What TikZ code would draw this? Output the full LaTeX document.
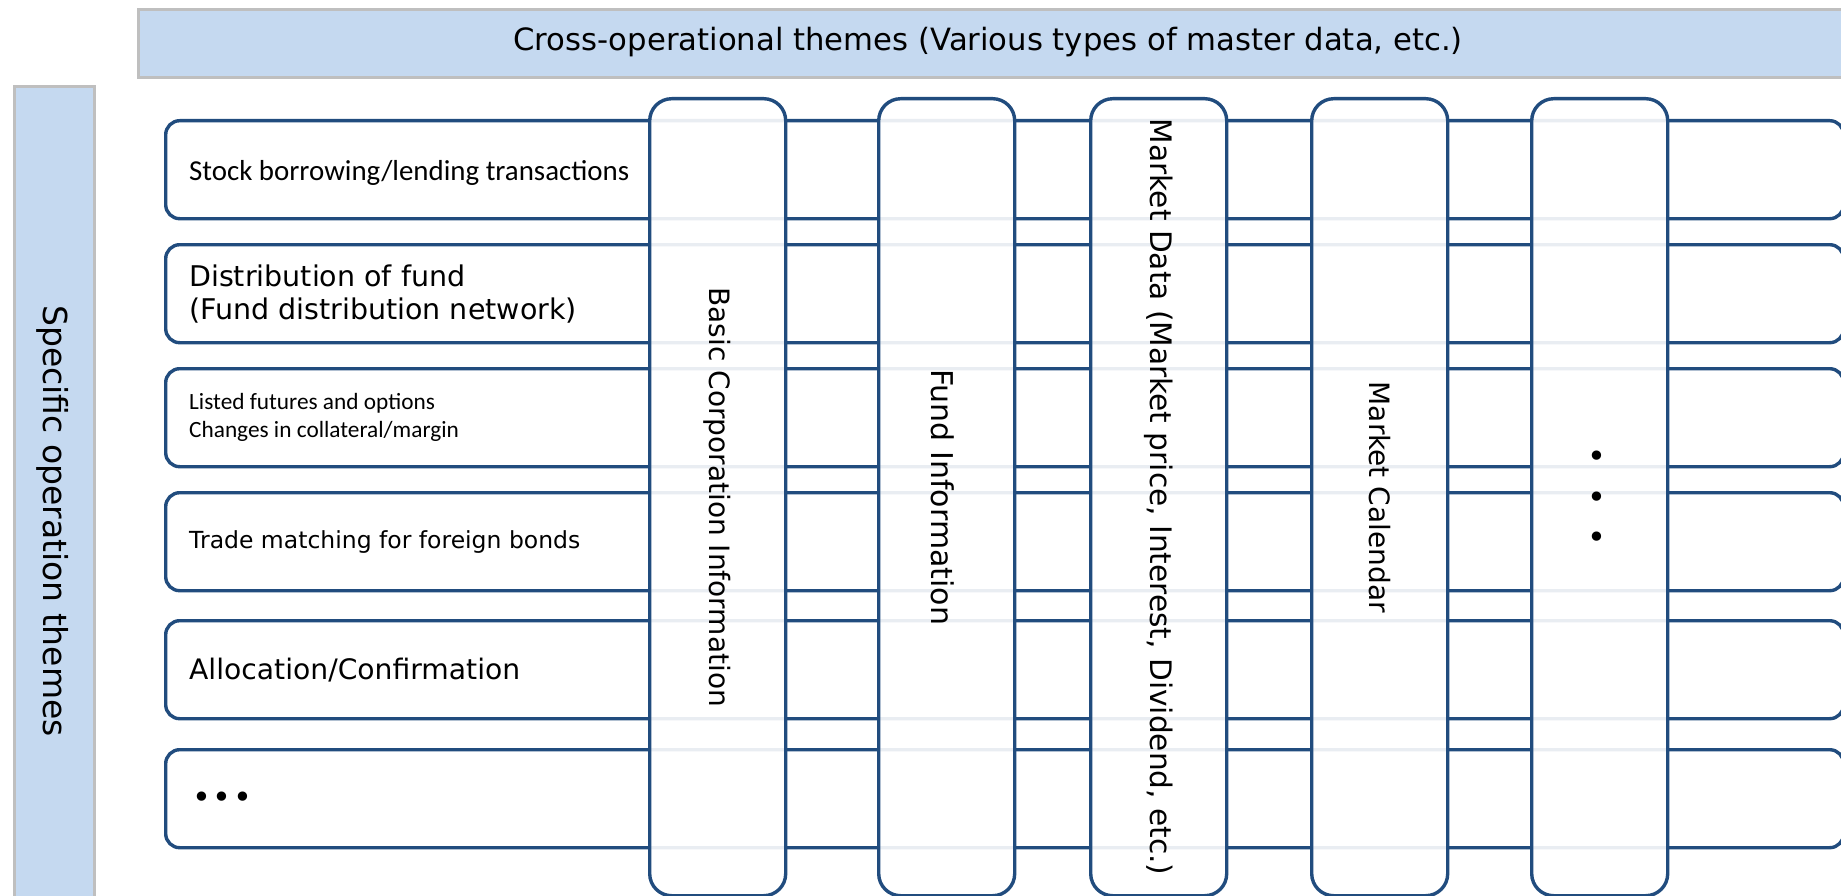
\documentclass[tikz,border=0pt]{standalone}
\usepackage{fontspec}
\setmainfont{DejaVu Sans}
\newfontfamily\calib{Carlito}
\usepackage{xcolor}
\usetikzlibrary{positioning}

\definecolor{bandfill}{RGB}{197,217,240}
\definecolor{bandline}{RGB}{191,191,191}
\definecolor{boxline}{RGB}{33,76,126}

\begin{document}
\begin{tikzpicture}[x=1pt,y=-1pt,
    band/.style={draw=bandline,line width=3pt,fill=bandfill,inner sep=0pt,anchor=north west},
    rowbox/.style={draw=boxline,line width=3.4pt,rounded corners=14pt,fill=white,inner sep=0pt,
        minimum width=1678pt,minimum height=98pt,anchor=north west},
    colbox/.style={draw=boxline,line width=3.4pt,rounded corners=22pt,fill=white,fill opacity=0.9,
        inner sep=0pt,minimum width=136pt,minimum height=797pt,anchor=north west},
    rowtext/.style={align=left,inner sep=0pt},
    coltext/.style={rotate=-90,inner sep=0pt,font=\fontsize{28}{34}\selectfont},
]
    \path[use as bounding box] (0,0) rectangle (1841,896);
    \clip (0,0) rectangle (1841,896);
    % bands
    \node[band,minimum width=1720pt,minimum height=68pt] (cross) at (137,8) {};
    \node[font=\fontsize{30.7}{36}\selectfont,inner sep=0pt] (crosstext) at (988,42)
        {Cross-operational themes (Various types of master data, etc.)};
    \node[band,minimum width=80pt,minimum height=840pt] (specific) at (13,85) {};
    \node[rotate=-90,font=\fontsize{33}{40}\selectfont,inner sep=0pt] (spectext) at (53,521)
        {Specific operation themes};
    % rows
    \node[rowbox] (r1) at (164,119) {};
    \node[rowbox] (r2) at (164,243) {};
    \node[rowbox] (r3) at (164,367) {};
    \node[rowbox] (r4) at (164,491) {};
    \node[rowbox] (r5) at (164,619) {};
    \node[rowbox] (r6) at (164,748) {};
        \node[rowtext,font=\calib\fontsize{28.9}{34}\selectfont,right=25pt of r1.west,yshift=-3pt] (t1)
            {Stock borrowing/lending transactions};
        \node[rowtext,font=\fontsize{28.5}{33}\selectfont,right=25pt of r2.west] (t2)
            {Distribution of fund\\(Fund distribution network)};
        \node[rowtext,font=\calib\fontsize{23.3}{28}\selectfont,right=25pt of r3.west] (t3)
            {Listed futures and options\\Changes in collateral/margin};
        \node[rowtext,font=\fontsize{23.5}{28}\selectfont,right=25pt of r4.west] (t4)
            {Trade matching for foreign bonds};
        \node[rowtext,font=\fontsize{28.2}{34}\selectfont,right=25pt of r5.west] (t5)
            {Allocation/Confirmation};
        \node[rowtext,font=\fontsize{32}{36}\selectfont,right=28pt of r6.west,yshift=-2pt] (t6)
            {•\kern1.6pt•\kern1.6pt•};
    % columns
    \node[colbox] (c1) at (648,97) {};
    \node[colbox] (c2) at (877,97) {};
    \node[colbox] (c3) at (1089,97) {};
    \node[colbox] (c4) at (1310,97) {};
    \node[colbox] (c5) at (1530,97) {};
        \node[coltext] (corp) at (c1.center) {Basic Corporation Information};
        \node[coltext,font=\fontsize{30}{36}\selectfont,yshift=-4pt] (fund) at (c2.center) {Fund Information};
        \node[coltext,font=\fontsize{29.6}{36}\selectfont] (market) at (c3.center)
            {Market Data (Market price, Interest, Dividend, etc.)};
        \node[coltext] (calendar) at (c4.center) {Market Calendar};
        \node[align=center,inner sep=0pt,font=\fontsize{32}{40.5}\selectfont,xshift=-3pt,yshift=-3pt] (more)
            at (c5.center) {•\\•\\•};
\end{tikzpicture}
\end{document}
